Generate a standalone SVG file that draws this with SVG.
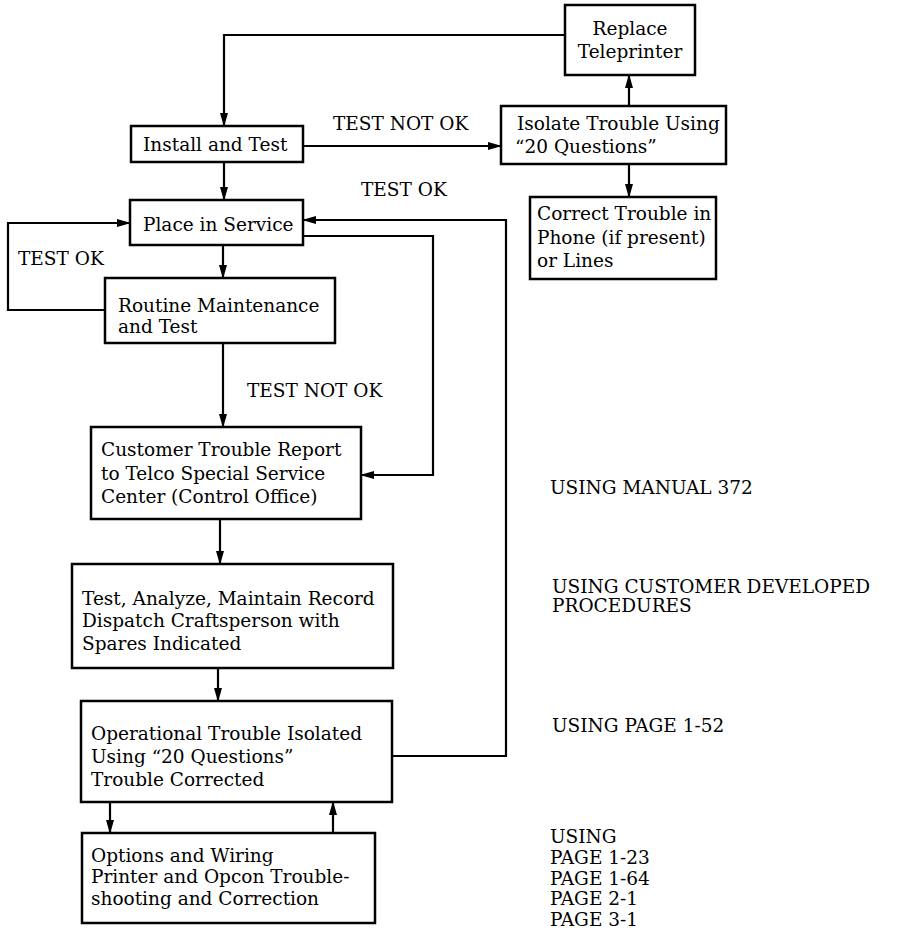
<svg xmlns="http://www.w3.org/2000/svg" width="900" height="936" viewBox="0 0 900 936">
<style>
.box{fill:#fff;stroke:#000;stroke-width:2.5}
.t{font-family:"DejaVu Serif","Liberation Serif",serif;font-size:18.5px;fill:#000}
.c{fill:none;stroke:#000;stroke-width:2.2}
</style>
<defs>
<marker id="ah" viewBox="0 0 14 10" refX="13" refY="5" markerWidth="14" markerHeight="10" markerUnits="userSpaceOnUse" orient="auto">
<path d="M0,1 L14,5 L0,9 z" fill="#000"/>
</marker>
</defs>
<rect width="900" height="936" fill="#fff"/>
<g id="connectors">
<path class="c" d="M565,35 H224 V126" marker-end="url(#ah)"/>
<path class="c" d="M303,146 H501" marker-end="url(#ah)"/>
<path class="c" d="M629,106 V75" marker-end="url(#ah)"/>
<path class="c" d="M629,164 V197" marker-end="url(#ah)"/>
<path class="c" d="M224,162 V200" marker-end="url(#ah)"/>
<path class="c" d="M223,245 V278" marker-end="url(#ah)"/>
<path class="c" d="M223,343 V427" marker-end="url(#ah)"/>
<path class="c" d="M105,310 H8 V223 H130" marker-end="url(#ah)"/>
<path class="c" d="M303,236 H433 V475 H361" marker-end="url(#ah)"/>
<path class="c" d="M392,756 H506 V220 H303" marker-end="url(#ah)"/>
<path class="c" d="M220,519 V564" marker-end="url(#ah)"/>
<path class="c" d="M218,668 V701" marker-end="url(#ah)"/>
<path class="c" d="M110,802 V833" marker-end="url(#ah)"/>
<path class="c" d="M333,833 V802" marker-end="url(#ah)"/>
<text class="t" x="333" y="130">TEST NOT OK</text>
<text class="t" x="361" y="196">TEST OK</text>
<text class="t" x="18" y="265">TEST OK</text>
<text class="t" x="247" y="397">TEST NOT OK</text>
</g>
<g id="replace">
<rect class="box" x="565" y="5" width="130" height="70"/>
<text class="t" x="630" y="35" text-anchor="middle">Replace</text>
<text class="t" x="630" y="58" text-anchor="middle">Teleprinter</text>
</g>
<g id="install">
<rect class="box" x="131" y="126" width="172" height="36"/>
<text class="t" x="143" y="151">Install and Test</text>
</g>
<g id="isolate">
<rect class="box" x="501" y="106" width="225" height="58"/>
<text class="t" x="517" y="130">Isolate Trouble Using</text>
<text class="t" x="515" y="153">“20 Questions”</text>
</g>
<g id="correct">
<rect class="box" x="530" y="197" width="186" height="82"/>
<text class="t" x="537" y="220">Correct Trouble in</text>
<text class="t" x="537" y="244">Phone (if present)</text>
<text class="t" x="537" y="267">or Lines</text>
</g>
<g id="place">
<rect class="box" x="130" y="200" width="173" height="45"/>
<text class="t" x="143" y="231">Place in Service</text>
</g>
<g id="routine">
<rect class="box" x="105" y="278" width="230" height="65"/>
<text class="t" x="118" y="312">Routine Maintenance</text>
<text class="t" x="118" y="333">and Test</text>
</g>
<g id="customer">
<rect class="box" x="91" y="427" width="270" height="92"/>
<text class="t" x="101" y="456">Customer Trouble Report</text>
<text class="t" x="101" y="480">to Telco Special Service</text>
<text class="t" x="101" y="503">Center (Control Office)</text>
</g>
<g id="test">
<rect class="box" x="72" y="564" width="321" height="104"/>
<text class="t" x="82" y="605">Test, Analyze, Maintain Record</text>
<text class="t" x="82" y="627">Dispatch Craftsperson with</text>
<text class="t" x="82" y="650">Spares Indicated</text>
</g>
<g id="operational">
<rect class="box" x="81" y="701" width="311" height="101"/>
<text class="t" x="91" y="740">Operational Trouble Isolated</text>
<text class="t" x="91" y="763">Using “20 Questions”</text>
<text class="t" x="91" y="786">Trouble Corrected</text>
</g>
<g id="options">
<rect class="box" x="82" y="833" width="293" height="90"/>
<text class="t" x="91" y="862">Options and Wiring</text>
<text class="t" x="91" y="883">Printer and Opcon Trouble-</text>
<text class="t" x="91" y="905">shooting and Correction</text>
</g>
<g id="notes">
<text class="t" x="550" y="494">USING MANUAL 372</text>
<text class="t" x="552" y="593">USING CUSTOMER DEVELOPED</text>
<text class="t" x="552" y="612">PROCEDURES</text>
<text class="t" x="552" y="732">USING PAGE 1-52</text>
<text class="t" x="550" y="843">USING</text>
<text class="t" x="550" y="864">PAGE 1-23</text>
<text class="t" x="550" y="885">PAGE 1-64</text>
<text class="t" x="550" y="905">PAGE 2-1</text>
<text class="t" x="550" y="926">PAGE 3-1</text>
</g>
</svg>
